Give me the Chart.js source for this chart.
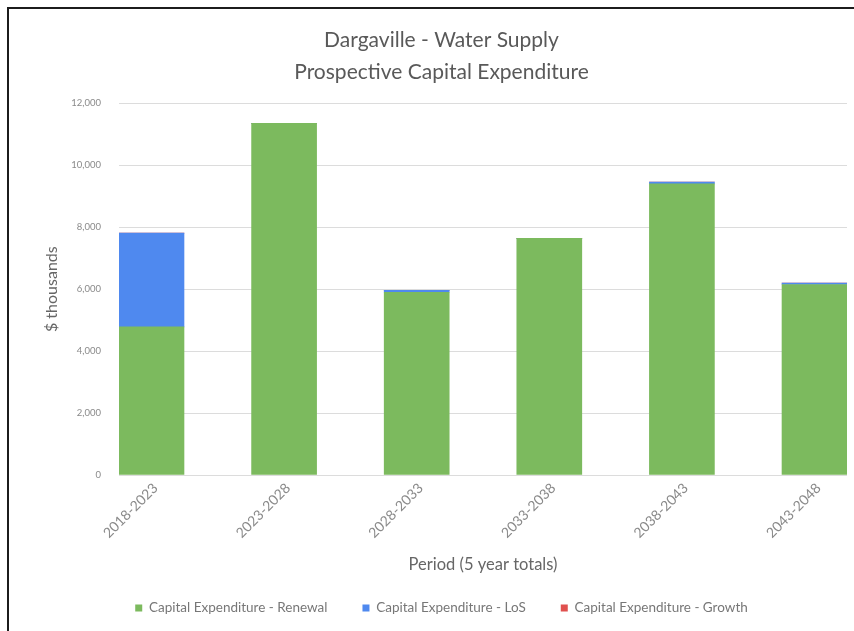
<!DOCTYPE html>
<html>
<head>
<meta charset="utf-8">
<title>Dargaville - Water Supply</title>
<script src="https://cdn.jsdelivr.net/npm/chart.js@4.4.1/dist/chart.umd.min.js"></script>
<style>
  html, body { margin: 0; padding: 0; background: #ffffff; overflow: hidden; }
  #wrap { position: relative; width: 854px; height: 631px; overflow: hidden; }
  #wrap canvas { position: absolute; left: 0; top: 0; }
  #frame {
    position: absolute; left: 7px; top: 7px; width: 860px; height: 640px;
    border-left: 2px solid #1c1c1c; border-top: 2px solid #1c1c1c;
    pointer-events: none;
  }
</style>
</head>
<body>
<div id="wrap">
  <canvas id="chart" width="854" height="631"></canvas>
  <div id="frame"></div>
</div>
<script>
// Five-year periods on the category axis
const periods = ['2018-2023', '2023-2028', '2028-2033', '2033-2038', '2038-2043', '2043-2048'];

// Capital expenditure per period, $ thousands
const renewal = [4780, 11350, 5900, 7640, 9400, 6150];
const levelOfService = [3030, 0, 60, 0, 60, 50];
const growth = [0, 0, 0, 0, 0, 0];

// Value axis
const yMin = 0;
const yMax = 12000;
const yStep = 2000;

const FONT = 'Lato, "Open Sans", sans-serif';

// Each period sits at its index on a numeric x axis
const toPoints = (values) => values.map((v, i) => ({ x: i, y: v }));

new Chart(document.getElementById('chart'), {
  type: 'bar',
  data: {
    datasets: [
      { label: 'Capital Expenditure - Renewal', data: toPoints(renewal), backgroundColor: '#7cba5e' },
      { label: 'Capital Expenditure - LoS', data: toPoints(levelOfService), backgroundColor: '#4f89ef' },
      { label: 'Capital Expenditure - Growth', data: toPoints(growth), backgroundColor: '#e0504e' }
    ]
  },
  options: {
    responsive: false,
    animation: false,
    barThickness: 65,
    layout: { padding: { left: 36, right: 7, top: 0, bottom: 6.25 } },
    plugins: {
      tooltip: { enabled: false },
      title: {
        display: true,
        text: ['Dargaville - Water Supply', 'Prospective Capital Expenditure'],
        color: '#595959',
        font: { family: FONT, size: 21, weight: 'normal', lineHeight: 32 / 21 },
        padding: { top: 24, bottom: 15.3 }
      },
      legend: {
        position: 'bottom',
        labels: {
          color: '#777777',
          font: { family: FONT, size: 13.5 },
          boxWidth: 7,
          boxHeight: 7,
          padding: 35
        }
      }
    },
    scales: {
      x: {
        type: 'linear',
        offset: false,
        stacked: true,
        min: -0.245,
        max: 5.245,
        grid: { display: false, drawTicks: false, offset: false },
        border: { display: false },
        ticks: {
          stepSize: 1,
          includeBounds: false,
          autoSkip: false,
          minRotation: 45,
          maxRotation: 45,
          padding: 5,
          labelOffset: 4,
          color: '#8a8a8a',
          font: { family: FONT, size: 14 },
          callback: (v) => periods[v] ?? ''
        },
        title: {
          display: true,
          text: 'Period (5 year totals)',
          color: '#666666',
          font: { family: FONT, size: 16.5 },
          padding: { top: 0, bottom: -8.6 }
        },
        afterFit: (scale) => { scale.height = 91.25; }
      },
      y: {
        stacked: true,
        min: yMin,
        max: yMax,
        grid: { color: '#dcdcdc', drawTicks: false },
        border: { display: false },
        ticks: {
          stepSize: yStep,
          padding: 18,
          color: '#8a8a8a',
          font: { family: FONT, size: 9.5 }
        },
        title: {
          display: true,
          text: '$ thousands',
          color: '#666666',
          font: { family: FONT, size: 16 },
          padding: { top: 6.4, bottom: 0 }
        },
        afterFit: (scale) => { scale.width = 83; }
      }
    }
  }
});
</script>
</body>
</html>
